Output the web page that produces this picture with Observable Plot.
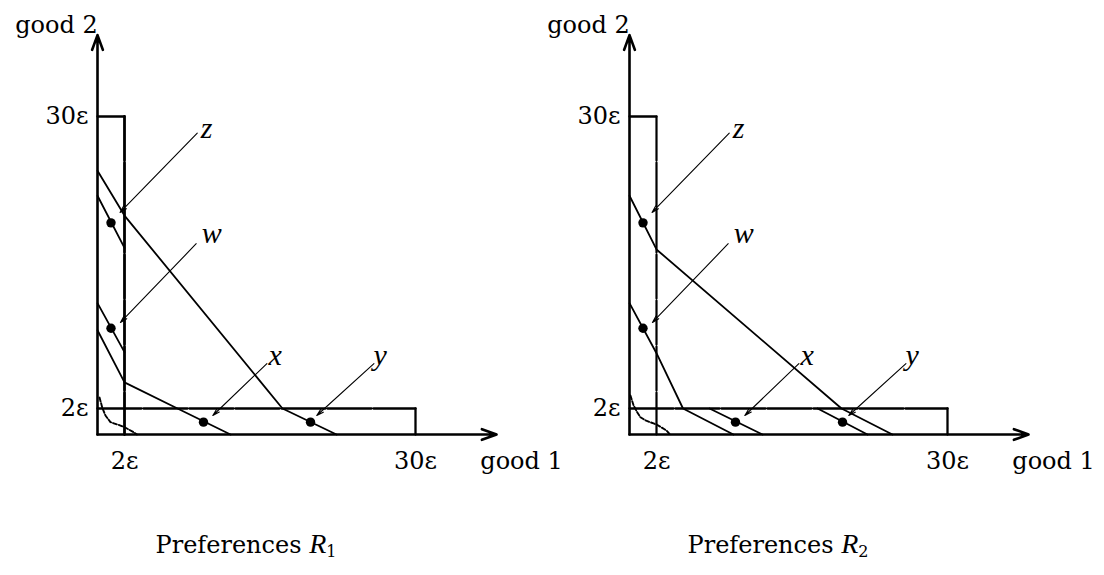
<!DOCTYPE html>
<html>
<head>
<meta charset="utf-8">
<script src="https://cdn.jsdelivr.net/npm/d3@7"></script>
<script src="https://cdn.jsdelivr.net/npm/@observablehq/plot@0.6"></script>
<style>
  html, body { margin: 0; padding: 0; background: #fff; }
  body { width: 1104px; height: 575px; position: relative; overflow: hidden; font-family: "DejaVu Serif", serif; }
  .panel { position: absolute; top: 0; }
  .cap { position: absolute; top: 528px; width: 320px; text-align: center; font-size: 24px; color: #000; }
  .cap i { font-family: "Liberation Serif", serif; font-size: 28px; }
  .cap sub { font-size: 16px; vertical-align: -4px; }
</style>
</head>
<body>
<div id="p1" class="panel" style="left:0px"></div>
<div id="p2" class="panel" style="left:532px"></div>
<div class="cap" style="left:86px">Preferences <i>R</i><sub>1</sub></div>
<div class="cap" style="left:618px">Preferences <i>R</i><sub>2</sub></div>
<script>
// ---------- data (units of ε) ----------
const tickValues = [2, 30];
const tickLabels = ["2ε", "30ε"];
const axisNames = ["good 1", "good 2"];
const axisExtent = [37.8];

// points and their labels
const pointNames = ["z", "w", "x", "y"];
const pointX = [1.0, 1.0, 9.6, 19.9];
const pointY = [19.8, 9.7, 0.95, 0.95];
const labelX = [9.9, 10.4, 16.5, 26.6];
const labelY = [28.9, 18.8, 7.1, 7.1];
const arrowFromX = [9.0, 8.9, 15.7, 26.0];
const arrowFromY = [28.4, 17.8, 6.3, 6.3];
const arrowToX = [1.67, 1.7, 10.5, 20.5];
const arrowToY = [20.8, 10.25, 1.46, 1.46];

// Preferences R1 indifference curves
const r1CurveA = [[0, 24.8], [2, 20.5], [17.2, 2], [22.4, 0]];
const r1CurveB = [[0, 22.4], [2, 17.4]];
const r1CurveC = [[0, 12.1], [2, 7.4]];
const r1CurveD = [[0, 9.5], [2, 4.5], [7.1, 2], [12.2, 0]];
const r1Corner = [[0.15, 3.05], [0.35, 2.1], [0.59, 1.46], [0.96, 0.95], [1.7, 0.69], [2.02, 0.56], [2.87, 0.18], [3.2, 0]];

// Preferences R2 indifference curves
const r2CurveZ = [[0, 22.4], [2, 17.25], [19.8, 2], [24.7, 0]];
const r2CurveW = [[0, 12.1], [2, 7.3], [4.55, 2], [9.4, 0]];
const r2CurveX = [[7.1, 2], [12.2, 0]];
const r2CurveY = [[17.5, 2], [22.3, 0]];
const r2Corner = [[0.07, 3.25], [0.3, 2.3], [0.57, 1.71], [0.81, 1.33], [1.19, 1.08], [1.78, 0.85], [2.05, 0.75], [2.96, 0.31], [3.3, 0]];

// ---------- helpers ----------
const rows = (pairs, id) => pairs.map(([x, y]) => ({x, y, id}));
const idx = d3.range(pointNames.length);
const SERIF = "DejaVu Serif";

function panel(curves, corner, vWidth) {
  const [lo, hi] = tickValues;
  const end = axisExtent[0];
  const solid = curves.flatMap((c, i) => rows(c, "c" + i));
  return Plot.plot({
    width: 572,
    height: 480,
    margin: 0,
    x: {type: "linear", domain: [0, lo, hi], range: [97, 124, 415], axis: null},
    y: {type: "linear", domain: [0, lo, hi], range: [434, 408, 116], axis: null},
    style: {background: "transparent", overflow: "visible", fontFamily: SERIF, color: "#000"},
    marks: [
      // indifference curves
      Plot.line(solid, {x: "x", y: "y", z: "id", stroke: "#000", strokeWidth: 1.8}),
      Plot.line(rows(corner, "k"), {x: "x", y: "y", stroke: "#000", strokeWidth: 1.9, strokeDasharray: "4,2"}),
      // the two boxes
      Plot.line([[0, hi], [lo, hi]], {x: d => d[0], y: d => d[1], stroke: "#000", strokeWidth: 2.3}),
      Plot.line([[lo, hi], [lo, 0]], {x: d => d[0], y: d => d[1], stroke: "#000", strokeWidth: vWidth, strokeDasharray: "44,2"}),
      Plot.line([[0, lo], [hi, lo]], {x: d => d[0], y: d => d[1], stroke: "#000", strokeWidth: 2.3, strokeDasharray: "44,2"}),
      Plot.line([[hi, lo], [hi, 0]], {x: d => d[0], y: d => d[1], stroke: "#000", strokeWidth: 2.3}),
      // axes
      Plot.arrow([0], {x1: () => 0, y1: () => 0, x2: () => end, y2: () => 0, stroke: "#000", strokeWidth: 2.6, headLength: 9, headAngle: 40}),
      Plot.arrow([0], {x1: () => 0, y1: () => 0, x2: () => 0, y2: () => end, stroke: "#000", strokeWidth: 2.6, headLength: 9, headAngle: 40}),
      // pointer arrows
      Plot.arrow(idx, {x1: i => arrowFromX[i], y1: i => arrowFromY[i], x2: i => arrowToX[i], y2: i => arrowToY[i], stroke: "#000", strokeWidth: 1.1, headLength: 10, headAngle: 30}),
      // points
      Plot.dot(idx, {x: i => pointX[i], y: i => pointY[i], r: 4.7, fill: "#000", stroke: null}),
      // point labels
      Plot.text(idx, {x: i => labelX[i], y: i => labelY[i], text: i => pointNames[i], fontFamily: "Liberation Serif", fontStyle: "italic", fontSize: 30, fill: "#000"}),
      // tick labels
      Plot.text(tickValues, {x: d => d, y: () => 0, text: (d, i) => tickLabels[i], dy: 27, fontSize: 24, fill: "#000"}),
      Plot.text(tickValues, {x: () => 0, y: d => d, text: (d, i) => tickLabels[i], dx: -9, textAnchor: "end", fontSize: 24, fill: "#000"}),
      // axis names
      Plot.text([axisNames[0]], {x: () => end, y: () => 0, text: d => d, dx: 25, dy: 27, fontSize: 24, fill: "#000"}),
      Plot.text([axisNames[1]], {x: () => 0, y: () => end, text: d => d, dx: -41, dy: -10, fontSize: 24, fill: "#000"})
    ]
  });
}

document.getElementById("p1").append(panel([r1CurveA, r1CurveB, r1CurveC, r1CurveD], r1Corner, 2.8));
document.getElementById("p2").append(panel([r2CurveZ, r2CurveW, r2CurveX, r2CurveY], r2Corner, 2.2));
</script>
</body>
</html>
